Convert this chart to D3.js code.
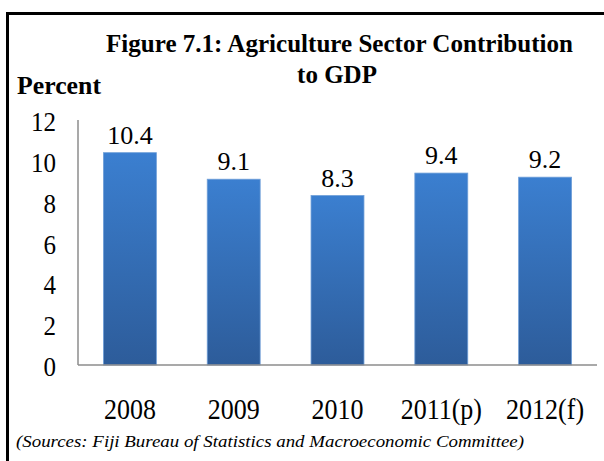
<!DOCTYPE html>
<meta charset="utf-8" />
<style>
  body { margin: 0; background: #fff; }
</style>
<body>
  <script src="https://d3js.org/d3.v7.min.js"></script>
  <script>
    // chart data
    const years = ["2008", "2009", "2010", "2011(p)", "2012(f)"];
    const shares = [10.4, 9.1, 8.3, 9.4, 9.2];
    const yTicks = [0, 2, 4, 6, 8, 10, 12];

    const W = 604, H = 461;
    const plot = { left: 78, right: 597, top: 120, bottom: 365 };
    const serif = "'Liberation Serif', 'Times New Roman', Tinos, Times, serif";

    const svg = d3.select("body").append("svg")
      .attr("width", W).attr("height", H)
      .style("font-family", serif);

    // gradient for the bars
    const grad = svg.append("defs").append("linearGradient")
      .attr("id", "barGrad").attr("x1", 0).attr("y1", 0).attr("x2", 0).attr("y2", 1);
    grad.append("stop").attr("offset", "0%").attr("stop-color", "#3b7fd0");
    grad.append("stop").attr("offset", "100%").attr("stop-color", "#2d5c9a");

    // outer frame (right and bottom cropped off)
    svg.append("path")
      .attr("d", "M7.5," + (H + 5) + " V13.5 H" + (W + 5))
      .attr("fill", "none").attr("stroke", "#000").attr("stroke-width", 3);

    const x = d3.scaleBand().domain(years)
      .range([plot.left, plot.right]).paddingInner(0.49).paddingOuter(0.245);
    const y = d3.scaleLinear().domain([0, 12]).range([plot.bottom, plot.top]);

    // axis lines
    svg.append("line")
      .attr("x1", plot.left).attr("x2", plot.left)
      .attr("y1", y(12)).attr("y2", y(0))
      .attr("stroke", "#8c8c8c").attr("stroke-width", 1.5);

    // y tick labels
    svg.append("g").selectAll("text").data(yTicks).join("text")
      .attr("transform", d => "translate(56," + (y(d) + 11) + ") scale(1,1.08)")
      .attr("text-anchor", "end").attr("font-size", 25)
      .text(d => d);

    // bars
    svg.append("g").selectAll("rect").data(shares).join("rect")
      .attr("x", (d, i) => x(years[i]))
      .attr("width", x.bandwidth())
      .attr("y", d => y(d))
      .attr("height", d => y(0) - y(d))
      .attr("fill", "url(#barGrad)")
      .attr("stroke", "#6f9fd8").attr("stroke-width", 0.8);

    svg.append("line")
      .attr("x1", plot.left).attr("x2", plot.right)
      .attr("y1", y(0)).attr("y2", y(0))
      .attr("stroke", "#8c8c8c").attr("stroke-width", 1.5);

    // value labels
    svg.append("g").selectAll("text").data(shares).join("text")
      .attr("x", (d, i) => x(years[i]) + x.bandwidth() / 2)
      .attr("y", d => y(d) - 9)
      .attr("text-anchor", "middle").attr("font-size", 26)
      .text(d => d.toFixed(1));

    // category labels
    svg.append("g").selectAll("text").data(years).join("text")
      .attr("transform", d => "translate(" + (x(d) + x.bandwidth() / 2) + ",419) scale(1,1.1)")
      .attr("text-anchor", "middle").attr("font-size", 26)
      .text(d => d);

    // titles
    svg.append("text")
      .attr("x", 106).attr("y", 52)
      .attr("font-size", 25).attr("font-weight", "bold")
      .attr("textLength", 467).attr("lengthAdjust", "spacingAndGlyphs")
      .text("Figure 7.1: Agriculture Sector Contribution");
    svg.append("text")
      .attr("x", 337).attr("y", 83)
      .attr("text-anchor", "middle")
      .attr("font-size", 25).attr("font-weight", "bold")
      .text("to GDP");
    svg.append("text")
      .attr("x", 17).attr("y", 94)
      .attr("font-size", 26).attr("font-weight", "bold")
      .attr("textLength", 84).attr("lengthAdjust", "spacingAndGlyphs")
      .text("Percent");

    svg.append("text")
      .attr("x", 16).attr("y", 447)
      .attr("font-size", 17).attr("font-style", "italic")
      .attr("textLength", 508).attr("lengthAdjust", "spacingAndGlyphs")
      .text("(Sources: Fiji Bureau of Statistics and Macroeconomic  Committee)");
  </script>
</body>
